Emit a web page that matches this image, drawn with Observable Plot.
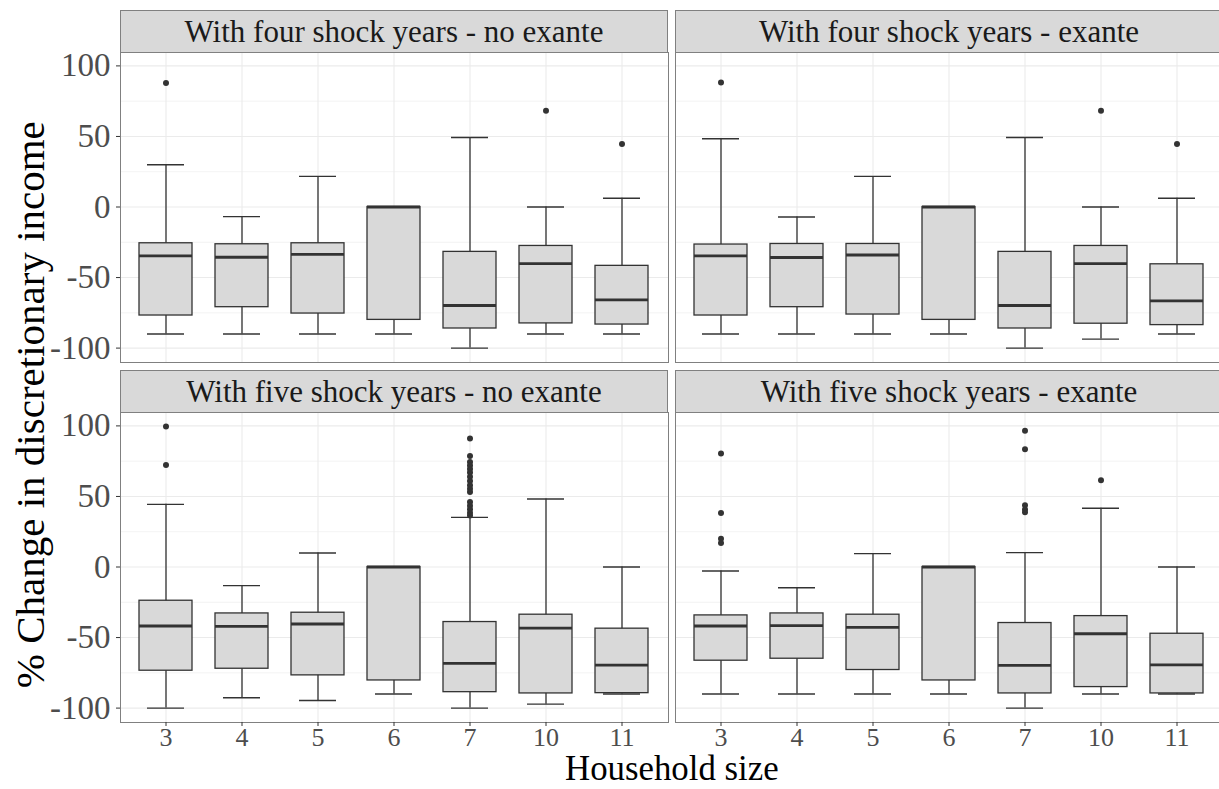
<!DOCTYPE html>
<html>
<head>
<meta charset="utf-8">
<script src="https://cdn.jsdelivr.net/npm/d3@7"></script>
<script src="https://cdn.jsdelivr.net/npm/@observablehq/plot@0.6"></script>
<style>
  html, body { margin: 0; padding: 0; background: #fff; overflow: hidden; }
  #root { position: relative; width: 1219px; height: 789px; overflow: hidden; font-family: "Liberation Serif", "DejaVu Serif", serif; background: #fff; }
  .panel { position: absolute; }
  .panel svg { max-width: none !important; display: block; }
  .strip { position: absolute; box-sizing: border-box; background: #d9d9d9; border: 1px solid #808080; border-bottom: none;
           font-size: 31px; color: #1a1a1a; text-align: center; line-height: 41px; white-space: nowrap; }
  .ytitle { position: absolute; font-size: 41px; line-height: 1.107; color: #000; white-space: nowrap; transform-origin: center center; }
  .xtitle { position: absolute; font-size: 34.8px; line-height: 1.107; color: #000; white-space: nowrap; }
</style>
</head>
<body>
<div id="root"></div>
<script>
// ---- data ----
const sizes = ["3", "4", "5", "6", "7", "10", "11"];
const panelTitles = [
  "With four shock years - no exante",
  "With four shock years - exante",
  "With five shock years - no exante",
  "With five shock years - exante"
];
const yTicks = [-100, -50, 0, 50, 100];
const yMinor = [-75, -25, 25, 75];

// panel 1: four shock years - no exante
const lower1 = [-90, -90, -90, -90, -100, -90, -90];
const q1_1   = [-76.9, -71, -75.5, -80, -86.1, -82.5, -83.3];
const med1   = [-34.7, -35.6, -33.5, 0, -69.8, -40.1, -65.8];
const q3_1   = [-25.7, -26.4, -25.7, 0, -31.8, -27.6, -41.7];
const upper1 = [30, -6.8, 21.7, 0, 49.3, 0, 6.2];
const outSize1 = ["3", "10", "11"];
const outVal1  = [87.8, 68.2, 44.6];

// panel 2: four shock years - exante
const lower2 = [-90, -90, -90, -90, -100, -93.6, -90];
const q1_2   = [-76.9, -71, -76.2, -80, -86.1, -82.7, -83.7];
const med2   = [-34.7, -35.8, -34, 0, -69.8, -40.1, -66.5];
const q3_2   = [-26.6, -26.2, -26.2, 0, -31.8, -27.6, -40.6];
const upper2 = [48.4, -7.1, 21.7, 0, 49.3, 0, 6.2];
const outSize2 = ["3", "10", "11"];
const outVal2  = [88.2, 68.2, 44.6];

// panel 3: five shock years - no exante
const lower3 = [-100, -92.7, -94.6, -90, -100, -97.2, -90];
const q1_3   = [-73.5, -72.1, -76.8, -80.4, -88.7, -89.6, -89.4];
const med3   = [-41.8, -42.1, -40.4, 0, -68.3, -43.3, -69.5];
const q3_3   = [-23.9, -32.9, -32.4, 0, -39, -33.8, -43.7];
const upper3 = [44.4, -13.2, 9.9, 0, 35.2, 48.2, 0];
const outSize3 = ["3", "3", "7", "7", "7", "7", "7", "7", "7", "7", "7", "7", "7", "7", "7", "7", "7", "7"];
const outVal3  = [99.5, 72.3, 91.1, 78.7, 74.5, 72, 69.5, 67, 64, 61, 58, 55.5, 53.2, 46, 43.5, 41, 38.5, 36.5];

// panel 4: five shock years - exante
const lower4 = [-90, -90, -90, -90, -100, -90, -90];
const q1_4   = [-66.4, -65, -73, -80.4, -89.6, -85.1, -89.6];
const med4   = [-41.8, -41.6, -42.8, 0, -69.7, -47.3, -69.3];
const q3_4   = [-34.3, -32.9, -33.8, 0, -39.7, -34.8, -47.3];
const upper4 = [-2.8, -14.7, 9.5, 0, 10.2, 41.6, 0];
const outSize4 = ["3", "3", "3", "3", "7", "7", "7", "7", "7", "10"];
const outVal4  = [80.4, 38.3, 20.1, 17, 96.5, 83.5, 43.7, 40.7, 38.8, 61.5];

const stats = [
  [lower1, q1_1, med1, q3_1, upper1, outSize1, outVal1],
  [lower2, q1_2, med2, q3_2, upper2, outSize2, outVal2],
  [lower3, q1_3, med3, q3_3, upper3, outSize3, outVal3],
  [lower4, q1_4, med4, q3_4, upper4, outSize4, outVal4]
];

// ---- layout ----
const layout = [
  {left: 0,   top: 52,  width: 668, mL: 120, yAxis: true,  xAxis: false, stripLeft: 120},
  {left: 675, top: 52,  width: 548, mL: 0,   yAxis: false, xAxis: false, stripLeft: 675},
  {left: 0,   top: 412, width: 668, mL: 120, yAxis: true,  xAxis: true,  stripLeft: 120},
  {left: 675, top: 412, width: 548, mL: 0,   yAxis: false, xAxis: true,  stripLeft: 675}
];
const panelH = 310, stripH = 42, mB = 36;
const root = document.getElementById("root");

stats.forEach(([lo, q1, md, q3, up, oS, oV], i) => {
  const L = layout[i];
  const boxes = sizes.map((s, j) => ({size: s, lower: lo[j], q1: q1[j], median: md[j], q3: q3[j], upper: up[j]}));
  const outs = oS.map((s, j) => ({size: s, value: oV[j]}));
  const marks = [
    Plot.gridY(yMinor, {stroke: "#ebebeb", strokeOpacity: 1, strokeWidth: 0.6}),
    Plot.gridY(yTicks, {stroke: "#ebebeb", strokeOpacity: 1, strokeWidth: 1.1}),
    Plot.gridX(sizes, {stroke: "#ebebeb", strokeOpacity: 1, strokeWidth: 1.1}),
    Plot.ruleX(boxes, {x: "size", y1: "lower", y2: "upper", stroke: "#333", strokeWidth: 1.3}),
    Plot.tickY(boxes, {x: "size", y: "lower", stroke: "#333", strokeWidth: 1.4, insetLeft: 8, insetRight: 8}),
    Plot.tickY(boxes, {x: "size", y: "upper", stroke: "#333", strokeWidth: 1.4, insetLeft: 8, insetRight: 8}),
    Plot.barY(boxes, {x: "size", y1: "q1", y2: "q3", fill: "#d9d9d9", stroke: "#333", strokeWidth: 1.3}),
    Plot.tickY(boxes, {x: "size", y: "median", stroke: "#333", strokeWidth: 2.8}),
    Plot.dot(outs, {x: "size", y: "value", r: 3, fill: "#333", stroke: null}),
    Plot.frame({stroke: "#808080", strokeWidth: 1})
  ];
  if (L.yAxis) marks.push(Plot.axisY(yTicks, {tickSize: 4, tickPadding: 6, fontSize: 33, fill: "#4d4d4d", stroke: "#333", tickFormat: d => String(d)}));
  if (L.xAxis) marks.push(Plot.axisX({tickSize: 4, tickPadding: 1, fontSize: 26, fill: "#4d4d4d", stroke: "#333"}));
  const chart = Plot.plot({
    width: L.width,
    height: panelH + (L.xAxis ? mB : 0),
    marginLeft: L.mL,
    marginRight: 0,
    marginTop: 0,
    marginBottom: L.xAxis ? mB : 0,
    style: {fontFamily: "'Liberation Serif', serif", background: "transparent", overflow: "visible"},
    x: {type: "band", domain: sizes, paddingInner: 0.3, paddingOuter: 0.25, axis: null, label: null},
    y: {domain: [-110.2, 109.5], axis: null, label: null},
    marks
  });
  const wrap = document.createElement("div");
  wrap.className = "panel";
  wrap.style.left = L.left + "px";
  wrap.style.top = L.top + "px";
  wrap.style.width = L.width + "px";
  wrap.appendChild(chart);
  root.appendChild(wrap);

  const strip = document.createElement("div");
  strip.className = "strip";
  strip.style.left = L.stripLeft + "px";
  strip.style.top = (L.top - stripH) + "px";
  strip.style.width = "548px";
  strip.style.height = stripH + "px";
  strip.textContent = panelTitles[i];
  root.appendChild(strip);
});

const yt = document.createElement("div");
yt.className = "ytitle";
yt.textContent = "% Change in discretionary income";
root.appendChild(yt);
const yw = yt.offsetWidth, yh = yt.offsetHeight;
yt.style.left = (30 - yw / 2) + "px";
yt.style.top = (404 - yh / 2) + "px";
yt.style.transform = "rotate(-90deg)";

const xt = document.createElement("div");
xt.className = "xtitle";
xt.textContent = "Household size";
root.appendChild(xt);
xt.style.left = (672 - xt.offsetWidth / 2) + "px";
xt.style.top = "750.3px";
</script>
</body>
</html>
